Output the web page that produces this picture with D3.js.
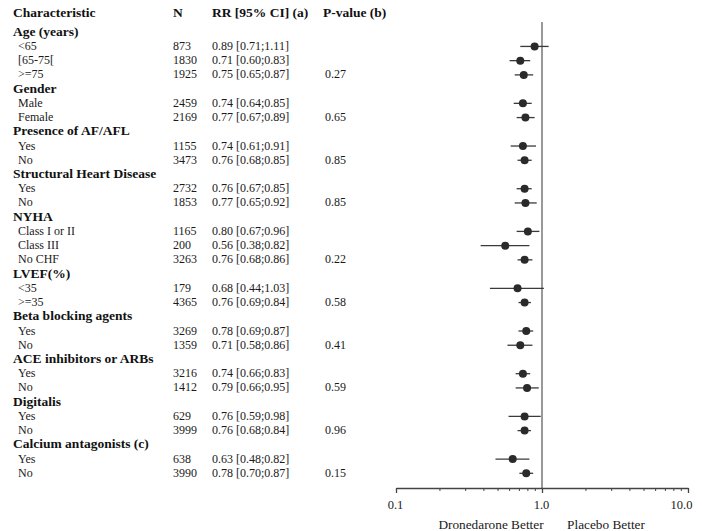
<!DOCTYPE html>
<html>
<head>
<meta charset="utf-8">
<script src="https://cdn.jsdelivr.net/npm/d3@7"></script>
<style>
  body { margin: 0; background: #fff; }
  text { font-family: "Liberation Serif", "Times New Roman", serif; font-size: 12px; fill: #1a1a1a; }
  .bold { font-weight: bold; font-size: 13.5px; fill: #111; }
  .foot { font-size: 13.3px; }
</style>
</head>
<body>
<svg></svg>
<script>
var screen = {width: 702, height: 531};

var groupNames = ["Age (years)", "Gender", "Presence of AF/AFL", "Structural Heart Disease", "NYHA",
                  "LVEF(%)", "Beta blocking agents", "ACE inhibitors or ARBs", "Digitalis", "Calcium antagonists (c)"];
var groupSizes = [3, 2, 2, 2, 3, 2, 2, 2, 2, 2];
var subgroups = ["<65", "[65-75[", ">=75", "Male", "Female", "Yes", "No", "Yes", "No",
                 "Class I or II", "Class III", "No CHF", "<35", ">=35", "Yes", "No", "Yes", "No",
                 "Yes", "No", "Yes", "No"];
var nValues = [873, 1830, 1925, 2459, 2169, 1155, 3473, 2732, 1853, 1165, 200, 3263, 179, 4365,
               3269, 1359, 3216, 1412, 629, 3999, 638, 3990];
var rr = [0.89, 0.71, 0.75, 0.74, 0.77, 0.74, 0.76, 0.76, 0.77, 0.80, 0.56, 0.76, 0.68, 0.76,
          0.78, 0.71, 0.74, 0.79, 0.76, 0.76, 0.63, 0.78];
var ciLow = [0.71, 0.60, 0.65, 0.64, 0.67, 0.61, 0.68, 0.67, 0.65, 0.67, 0.38, 0.68, 0.44, 0.69,
             0.69, 0.58, 0.66, 0.66, 0.59, 0.68, 0.48, 0.70];
var ciHigh = [1.11, 0.83, 0.87, 0.85, 0.89, 0.91, 0.85, 0.85, 0.92, 0.96, 0.82, 0.86, 1.03, 0.84,
              0.87, 0.86, 0.83, 0.95, 0.98, 0.84, 0.82, 0.87];
var pValues = ["0.27", "0.65", "0.85", "0.85", "0.22", "0.58", "0.41", "0.59", "0.96", "0.15"];
var xTicks = [0.1, 1, 10];
var xTickLabels = ["0.1", "1.0", "10.0"];

// flatten groups + subgroups into rows
var rows = [];
var k = 0;
groupNames.forEach(function(g, gi){
    rows.push({type: "group", label: g});
    for (var j = 0; j < groupSizes[gi]; j++) {
        rows.push({
            type: "sub", label: subgroups[k], n: nValues[k], rr: rr[k], lo: ciLow[k], hi: ciHigh[k],
            p: j == groupSizes[gi] - 1 ? pValues[gi] : ""
        });
        k++;
    }
});

var svg = d3.select("svg")
    .attr("width", screen.width)
    .attr("height", screen.height);

var yScale = d3.scaleLinear()
    .domain([1, rows.length])
    .range([32.2, 473.3]);

var xScale = d3.scaleLog()
    .domain([0.1, 10])
    .range([396, 688]);

var fmt = d3.format(".2f");

// header
var header = svg.append("g");
header.append("text").attr("class", "bold").attr("x", 13).attr("y", 17).text("Characteristic");
header.append("text").attr("class", "bold").attr("x", 173).attr("y", 17).text("N");
header.append("text").attr("class", "bold").attr("x", 212).attr("y", 17).text("RR [95% CI] (a)");
header.append("text").attr("class", "bold").attr("x", 323).attr("y", 17).text("P-value (b)");

var rowG = svg.selectAll(".row")
    .data(rows)
    .enter()
    .append("g")
    .attr("class", "row")
    .attr("transform", function(d, i){ return "translate(0," + (yScale(i + 1) + 3.5) + ")"; });

rowG.append("text")
    .attr("class", function(d){ return d.type == "group" ? "bold" : null; })
    .attr("x", function(d){ return d.type == "group" ? 13 : 18; })
    .text(function(d){ return d.label; });

var subs = rowG.filter(function(d){ return d.type == "sub"; });
subs.append("text").attr("x", 173).text(function(d){ return d.n; });
subs.append("text").attr("x", 212)
    .text(function(d){ return fmt(d.rr) + " [" + fmt(d.lo) + ";" + fmt(d.hi) + "]"; });
subs.append("text").attr("x", 325).text(function(d){ return d.p; });

// reference line at 1
svg.append("line")
    .attr("x1", xScale(1)).attr("x2", xScale(1))
    .attr("y1", 22).attr("y2", 488)
    .attr("stroke", "#777")
    .attr("stroke-width", 1.5);

// CI lines and points
var marks = svg.append("g")
    .selectAll("g")
    .data(rows.filter(function(d){ return d.type == "sub"; }))
    .enter()
    .append("g")
    .attr("transform", function(d){ return "translate(0," + yScale(rows.indexOf(d) + 1) + ")"; });

marks.append("line")
    .attr("x1", function(d){ return xScale(d.lo); })
    .attr("x2", function(d){ return xScale(d.hi); })
    .attr("stroke", "#3a3a3a")
    .attr("stroke-width", 1.3);

marks.append("circle")
    .attr("cx", function(d){ return xScale(d.rr); })
    .attr("r", 4)
    .attr("fill", "#2a2a2a");

// axis
var xAxis = d3.axisBottom(xScale)
    .tickValues(xTicks)
    .tickFormat(function(d, i){ return xTickLabels[i]; })
    .tickSize(5)
    .tickSizeOuter(0);

var axisG = svg.append("g")
    .attr("transform", "translate(0,488)")
    .call(xAxis);

axisG.select(".domain").attr("stroke", "#444").attr("stroke-width", 1.3);
axisG.selectAll(".tick line").attr("stroke", "#444").attr("stroke-width", 1.3);
axisG.selectAll(".tick text")
    .attr("y", 12)
    .attr("dx", function(d, i){ return i == 2 ? -7 : -1; })
    .style("font-family", "\"Liberation Serif\", serif")
    .style("font-size", "12.5px")
    .attr("fill", "#1a1a1a");

// minor ticks
var minor = [];
[0.1, 1].forEach(function(dec){
    for (var m = 2; m <= 9; m++) minor.push(dec * m);
});
axisG.selectAll(".minor")
    .data(minor)
    .enter()
    .append("line")
    .attr("class", "minor")
    .attr("x1", function(d){ return xScale(d); })
    .attr("x2", function(d){ return xScale(d); })
    .attr("y1", 0).attr("y2", 3)
    .attr("stroke", "#444");

svg.append("text")
    .attr("class", "foot")
    .attr("x", 491).attr("y", 529)
    .attr("text-anchor", "middle")
    .text("Dronedarone Better");
svg.append("text")
    .attr("class", "foot")
    .attr("x", 606).attr("y", 529)
    .attr("text-anchor", "middle")
    .text("Placebo Better");
</script>
</body>
</html>
